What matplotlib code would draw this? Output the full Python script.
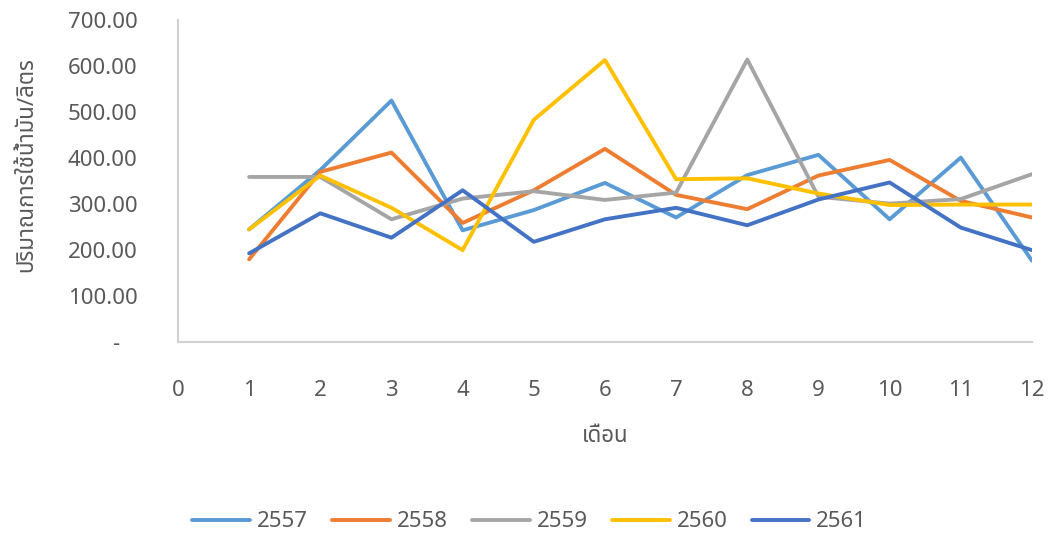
import matplotlib
matplotlib.use("Agg")
import matplotlib.pyplot as plt
from matplotlib import font_manager
from matplotlib.ft2font import FT2Font

months = list(range(1, 13))
years = ["2557", "2558", "2559", "2560", "2561"]
y2557 = [245, 374, 525, 243, 287, 346, 271, 363, 407, 267, 401, 177]
y2558 = [180, 370, 412, 259, 330, 420, 320, 289, 362, 396, 307, 271]
y2559 = [359, 359, 267, 312, 328, 309, 325, 614, 316, 301, 311, 365]
y2560 = [245, 362, 292, 200, 483, 613, 354, 356, 323, 298, 299, 299]
y2561 = [193, 280, 227, 330, 218, 267, 292, 254, 310, 347, 249, 200]
yticks = [0, 100, 200, 300, 400, 500, 600, 700]
xticks = list(range(0, 13))
colors = ["#5B9BD5", "#ED7D31", "#A5A5A5", "#FFC000", "#4472C4"]


def thai_family():
    """Pick an installed family that has Thai glyphs."""
    preferred = ["Noto Sans Thai", "Noto Sans Thai UI", "Noto Sans", "Tahoma",
                 "Loma", "Garuda", "Sarabun", "DejaVu Sans"]
    found = {}
    for f in font_manager.fontManager.ttflist:
        try:
            ft = FT2Font(f.fname)
            if ft.get_char_index(ord("\u0e1b")) and ft.get_char_index(ord("\u0e14")):
                found.setdefault(f.name, f.fname)
        except Exception:
            pass
    for p in preferred:
        if p in found:
            return p
    return next(iter(found), "DejaVu Sans")


fam = thai_family()
plt.rcParams["font.family"] = [fam, "DejaVu Sans"]

fig = plt.figure(figsize=(10.53, 5.33), dpi=100)
ax = fig.add_axes([0.169, 0.358, 0.811, 0.6045])

for lab, vals, c in zip(years, [y2557, y2558, y2559, y2560, y2561], colors):
    ax.plot(months, vals, color=c, lw=2.8, label=lab, solid_capstyle="round")

ax.set_xlim(0, 12)
ax.set_ylim(0, 700)
ax.set_xticks(xticks)
ax.set_yticks(yticks)
ax.set_yticklabels(["-   " if v == 0 else f"{v:.2f}" for v in yticks])

txt = "#595959"
ax.tick_params(axis="both", length=0, labelsize=16, labelcolor=txt)
ax.tick_params(axis="x", pad=27)
ax.tick_params(axis="y", pad=29)
for t in ax.get_xticklabels() + ax.get_yticklabels():
    t.set_fontweight("light")

for s in ["top", "right"]:
    ax.spines[s].set_visible(False)
for s in ["left", "bottom"]:
    ax.spines[s].set_color("#D0D0D0")
    ax.spines[s].set_linewidth(1.5)

ax.set_xlabel("เดือน", fontsize=16, color=txt, labelpad=18, fontweight="light")
ax.set_ylabel("ปริมาณการใช้น้ำมัน/ลิตร", fontsize=16, color=txt, fontweight="light")
ax.yaxis.set_label_coords(-0.165, 0.55)

fig.legend(loc="center", bbox_to_anchor=(0.503, 0.021), ncol=5, frameon=False,
           labelcolor=txt, handlelength=2.6, handletextpad=0.3,
           columnspacing=1.1, prop={"weight": "light", "size": 16})

fig.savefig("out.png", dpi=100)
